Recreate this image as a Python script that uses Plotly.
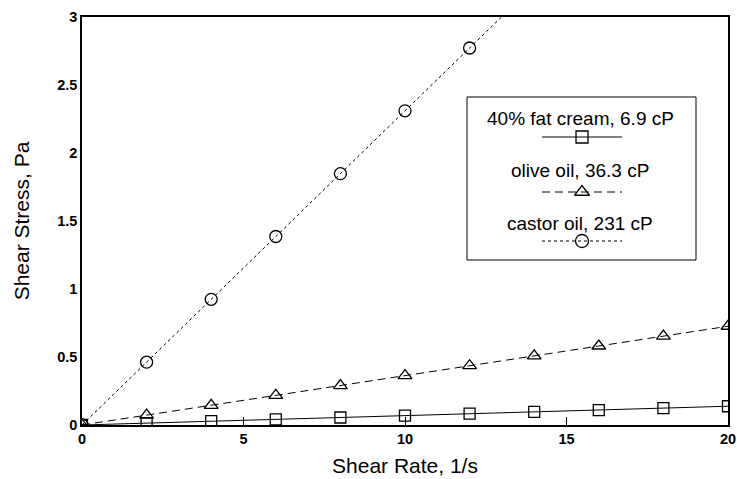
import plotly.graph_objects as go

shear_rate = [0, 2, 4, 6, 8, 10, 12, 14, 16, 18, 20]
cream = [0, 0.014, 0.028, 0.041, 0.055, 0.069, 0.083, 0.097, 0.110, 0.124, 0.138]
olive = [0, 0.073, 0.145, 0.218, 0.290, 0.363, 0.436, 0.508, 0.581, 0.653, 0.726]
castor = [0, 0.462, 0.924, 1.386, 1.848, 2.310, 2.772, 3.234, 3.696, 4.158, 4.620]
names = ["40% fat cream, 6.9 cP", "olive oil, 36.3 cP", "castor oil, 231 cP"]
x_ticks = [0, 5, 10, 15, 20]
y_ticks = [0, 0.5, 1, 1.5, 2, 2.5, 3]
y_tick_text = ["0", "0.5", "1", "1.5", "2", "2.5", "3"]

FONT = "Liberation Sans, Arial, sans-serif"
styles = [
    dict(dash="solid", symbol="square-open", size=11),
    dict(dash="8px,5px", symbol="triangle-up-open", size=12),
    dict(dash="3px,3px", symbol="circle-open", size=12),
]
series = [cream, olive, castor]

fig = go.Figure()
for vals, name, st in zip(series, names, styles):
    fig.add_trace(go.Scatter(
        x=shear_rate, y=vals, name=name, mode="lines+markers",
        line=dict(color="black", width=1, dash=st["dash"]),
        marker=dict(symbol=st["symbol"], size=st["size"], color="black",
                    line=dict(width=1.3, color="black")),
        showlegend=False, cliponaxis=True,
    ))

# Legend drawn manually in pixel-like overlay axes
L, R, T, B = 82, 728, 17, 425
text_y = [118, 170, 223]
samp_y = [137, 192, 241]
for name, st, ty, sy in zip(names, styles, text_y, samp_y):
    fig.add_trace(go.Scatter(
        x=[542, 622], y=[sy, sy], mode="lines", xaxis="x2", yaxis="y2",
        line=dict(color="black", width=1, dash=st["dash"]),
        showlegend=False, hoverinfo="skip", cliponaxis=False,
    ))
    fig.add_trace(go.Scatter(
        x=[582], y=[sy], mode="markers", xaxis="x2", yaxis="y2",
        marker=dict(symbol=st["symbol"], size=st["size"] + 1, color="black",
                    line=dict(width=1.3, color="black")),
        showlegend=False, hoverinfo="skip", cliponaxis=False,
    ))
    fig.add_annotation(
        x=580, y=ty, xref="x2", yref="y2", text=name, showarrow=False,
        xanchor="center", yanchor="middle",
        font=dict(family=FONT, size=19, color="black"),
    )

fig.add_shape(type="rect", xref="x2", yref="y2", x0=467, x1=696, y0=97, y1=260,
              line=dict(color="black", width=1), fillcolor="rgba(0,0,0,0)")

fig.update_layout(
    width=737, height=479,
    margin=dict(l=L, r=737 - R, t=T, b=479 - B),
    paper_bgcolor="white", plot_bgcolor="white",
    xaxis=dict(
        range=[0, 20], tickvals=x_ticks, ticks="inside", ticklen=8, tickcolor="black",
        showline=True, linecolor="black", linewidth=1.5, mirror=True,
        showgrid=False, zeroline=False, automargin=False,
        tickfont=dict(family=FONT, size=14.5, color="black", weight="bold"),
        title=dict(text="Shear Rate, 1/s", font=dict(family=FONT, size=21, color="black"),
                   standoff=12),
    ),
    yaxis=dict(
        range=[0, 3], tickvals=y_ticks, ticktext=y_tick_text, ticks="",
        showline=True, linecolor="black", linewidth=1.5, mirror=True,
        showgrid=False, zeroline=False, automargin=False,
        tickfont=dict(family=FONT, size=14.5, color="black", weight="bold"),
        title=dict(text="Shear Stress, Pa", font=dict(family=FONT, size=21, color="black"),
                   standoff=22),
    ),
    xaxis2=dict(range=[L, R], overlaying="x", visible=False, fixedrange=True),
    yaxis2=dict(range=[B, T], overlaying="y", visible=False, fixedrange=True),
)

fig.write_html("out.html", config={"displayModeBar": False},
               post_script="document.body.style.margin='0px';")
